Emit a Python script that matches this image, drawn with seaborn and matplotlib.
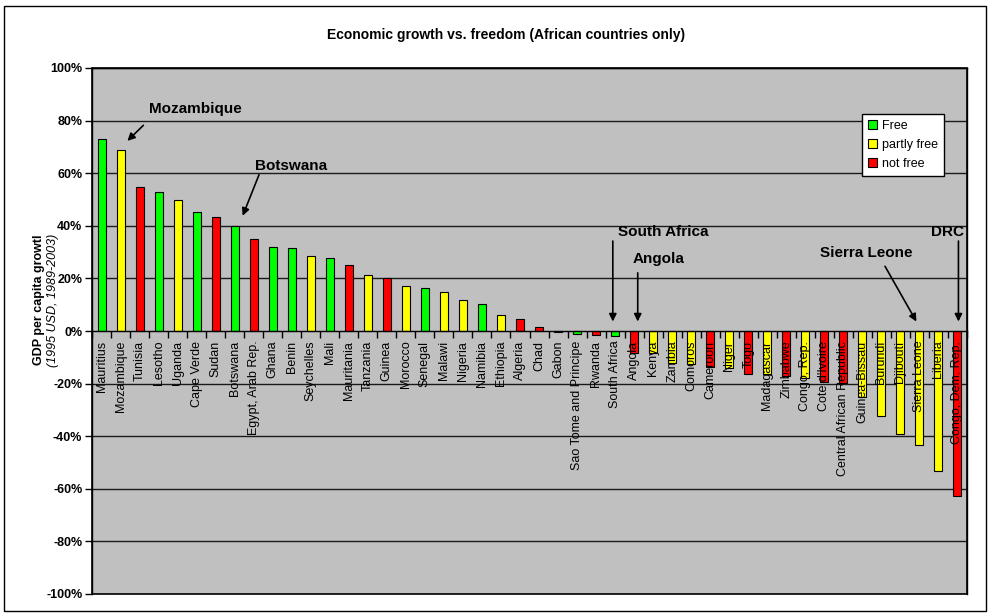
import matplotlib
matplotlib.use("Agg")
import matplotlib.pyplot as plt
from matplotlib.patches import Patch, Rectangle
from matplotlib.ticker import FuncFormatter, FixedLocator
import numpy as np
import pandas as pd
import seaborn as sns

countries = ["Mauritius", "Mozambique", "Tunisia", "Lesotho", "Uganda", "Cape Verde",
             "Sudan", "Botswana", "Egypt, Arab Rep.", "Ghana", "Benin", "Seychelles",
             "Mali", "Mauritania", "Tanzania", "Guinea", "Morocco", "Senegal", "Malawi",
             "Nigeria", "Namibia", "Ethiopia", "Algeria", "Chad", "Gabon",
             "Sao Tome and Principe", "Rwanda", "South Africa", "Angola", "Kenya",
             "Zambia", "Comoros", "Cameroon", "Niger", "Togo", "Madagascar", "Zimbabwe",
             "Congo, Rep.", "Cote d'Ivoire", "Central African Republic", "Guinea-Bissau",
             "Burundi", "Djibouti", "Sierra Leone", "Liberia", "Congo, Dem. Rep."]
growth = [72.9, 68.7, 54.9, 52.7, 49.8, 45.3, 43.4, 40.0, 35.1, 31.9, 31.5, 28.4,
          27.6, 25.0, 21.3, 20.0, 17.2, 16.4, 14.9, 11.8, 10.3, 6.0, 4.5, 1.7, -0.4,
          -1.0, -1.4, -1.9, -8.5, -8.2, -12.0, -12.7, -13.8, -14.2, -16.5, -16.5,
          -17.3, -18.0, -19.3, -19.6, -25.0, -32.2, -39.2, -43.3, -53.4, -62.8]
status = ["Free", "partly free", "not free", "Free", "partly free", "Free",
          "not free", "Free", "not free", "Free", "Free", "partly free",
          "Free", "not free", "partly free", "not free", "partly free", "Free", "partly free",
          "partly free", "Free", "partly free", "not free", "not free", "partly free",
          "Free", "not free", "Free", "not free", "partly free",
          "partly free", "partly free", "not free", "partly free", "not free", "partly free", "not free",
          "partly free", "not free", "not free", "partly free",
          "partly free", "partly free", "partly free", "partly free", "not free"]
status_order = ["Free", "partly free", "not free"]
status_colors = ["#00FF00", "#FFFF00", "#FF0000"]
yticks = [-100, -80, -60, -40, -20, 0, 20, 40, 60, 80, 100]

title = "Economic growth vs. freedom (African countries only)"
ylabel1 = "GDP per capita growtl"
ylabel2 = "(1995 USD, 1989-2003)"

# annotations: label, text position (x, y), arrow tail, arrow tip (data coords)
annotations = [
    ("Mozambique", (4.91, 84.6), (2.20, 78.2), (1.36, 72.3)),
    ("Botswana", (9.96, 62.6), (8.28, 59.4), (7.42, 43.8)),
    ("South Africa", (29.52, 37.6), (26.88, 34.2), (26.88, 3.6)),
    ("Angola", (29.31, 27.3), (28.19, 22.1), (28.19, 3.6)),
    ("Sierra Leone", (40.19, 29.5), (41.19, 24.6), (42.84, 3.6)),
    ("DRC", (44.50, 37.6), (45.05, 34.2), (45.05, 3.6)),
]

df = pd.DataFrame({"country": countries, "growth": growth, "status": status})

sns.set_style("white")
plt.rcParams["font.family"] = ["Liberation Sans", "DejaVu Sans"]
plt.rcParams["text.color"] = "black"
plt.rcParams["axes.labelcolor"] = "black"
plt.rcParams["xtick.color"] = "black"
plt.rcParams["ytick.color"] = "black"

fig = plt.figure(figsize=(9.9, 6.15), dpi=100)
fig.patch.set_facecolor("white")
ax = fig.add_axes([92 / 990, 1 - 594 / 615, 875 / 990, 526 / 615])
ax.set_facecolor("#C0C0C0")

sns.barplot(data=df, x="country", y="growth", hue="status", order=countries,
            hue_order=status_order, palette=dict(zip(status_order, status_colors)),
            dodge=False, width=0.42, edgecolor="black", linewidth=0.8, saturation=1,
            legend=False, ax=ax, zorder=2)

ax.set_axisbelow(False)
ax.set_ylim(-100, 100)
ax.set_xlim(-0.5, len(countries) - 0.5)
for v in yticks:
    if v != 0:
        ax.axhline(v, color="#1a1a1a", lw=1.0, zorder=0.5)

ax.set_yticks(yticks)
ax.yaxis.set_major_formatter(FuncFormatter(lambda v, p: f"{v:.0f}%"))
ax.tick_params(axis="y", which="major", length=5, width=1, direction="out",
               labelsize=9, pad=2, left=True, colors="black")
for lab in ax.get_yticklabels():
    lab.set_fontweight("bold")

ax.spines["bottom"].set_position(("data", 0))
for s in ax.spines.values():
    s.set_color("black")
    s.set_linewidth(1.0)
ax.add_patch(Rectangle((0, 0), 1, 1, transform=ax.transAxes, fill=False,
                       edgecolor="black", lw=1.2, clip_on=False, zorder=5))

ax.set_xticks(range(len(countries)))
ax.set_xticklabels(countries, rotation=90, fontsize=9, va="top", ha="center")
ax.xaxis.set_minor_locator(FixedLocator(np.arange(len(countries) + 1) - 0.5))
ax.tick_params(axis="x", which="major", length=0, pad=7, bottom=True, colors="black")
ax.tick_params(axis="x", which="minor", length=5, width=1, direction="out", bottom=True)
ax.set_xlabel("")
ax.set_ylabel("")

handles = [Patch(facecolor=c, edgecolor="black", lw=0.8) for c in status_colors]
leg = ax.legend(handles, status_order, loc="upper left", bbox_to_anchor=(0.88, 0.913),
                frameon=True, fancybox=False, edgecolor="black", framealpha=1,
                facecolor="white", fontsize=9, handlelength=0.7, handleheight=0.7,
                handletextpad=0.4, borderpad=0.5, labelspacing=0.55, borderaxespad=0)
leg.get_frame().set_linewidth(1.0)
leg.set_zorder(10)
for t in leg.get_texts():
    t.set_color("black")

for label, tpos, tail, tip in annotations:
    ax.text(tpos[0], tpos[1], label, ha="center", va="center", fontsize=11,
            fontweight="bold", color="black", zorder=6)
    ax.annotate("", xy=tip, xytext=tail,
                arrowprops=dict(arrowstyle="-|>", color="black", lw=1.2,
                                mutation_scale=11, shrinkA=0, shrinkB=0), zorder=6)

fig.text(506 / 990, 1 - 35 / 615, title, ha="center", va="center", fontsize=10,
         fontweight="bold", color="black")
fig.text(39 / 990, 1 - 300 / 615, ylabel1, rotation=90, ha="center", va="center",
         fontsize=9, fontweight="bold", color="black")
fig.text(53 / 990, 1 - 300 / 615, ylabel2, rotation=90, ha="center", va="center",
         fontsize=9, fontstyle="italic", color="black")

fig.add_artist(Rectangle((4 / 990, 4 / 615), 982 / 990, 605 / 615,
                         transform=fig.transFigure, fill=False, edgecolor="black",
                         lw=1.0))

fig.savefig("out.png", dpi=100)
